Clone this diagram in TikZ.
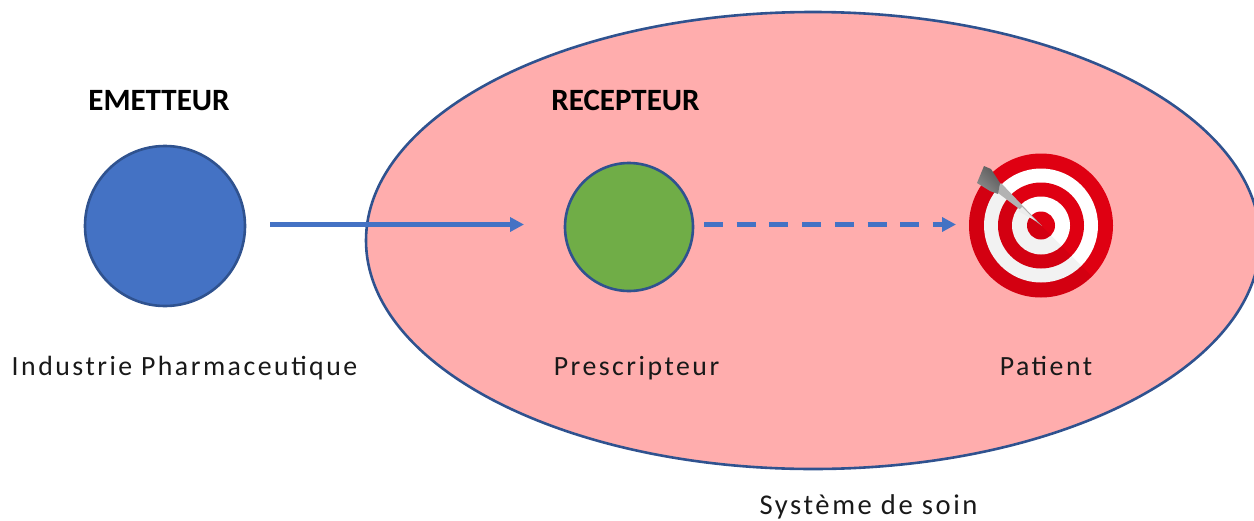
\documentclass[tikz,border=0pt]{standalone}
\usepackage{fontspec}
\setmainfont{Carlito}
\newfontfamily\spaced[LetterSpace=9]{Carlito}
\usetikzlibrary{arrows.meta,shapes.geometric}
\definecolor{bluefill}{HTML}{4472C4}
\definecolor{bluedark}{HTML}{2F528F}
\definecolor{greenfill}{HTML}{70AD47}
\definecolor{pinkfill}{HTML}{FFADAD}
\definecolor{targetred}{HTML}{DF0012}
\tikzset{
  x=1pt,y=-1pt,
  disc/.style={circle,draw=bluedark,line width=2.6pt,inner sep=0pt,minimum size=#1},
  label text/.style={font=\spaced\fontsize{27.8}{30}\selectfont,text=black!90,inner sep=0pt,anchor=base},
  head text/.style={font=\bfseries\fontsize{31}{33}\selectfont,text=black,inner sep=0pt,anchor=base},
  link/.style={draw=bluefill,line width=5pt,-{Triangle[length=14pt,width=14pt]}},
  ring/.style={circle,inner sep=0pt,minimum size=#1},
}
\begin{document}
\begin{tikzpicture}
\useasboundingbox (0,0) rectangle (1254,520);
\begin{scope}
\clip (0,0) rectangle (1254,520);
\node[ellipse,draw=bluedark,line width=2.6pt,fill=pinkfill,inner sep=0pt,minimum width=894pt,minimum height=457pt] (systeme) at (813,240.5) {};
\end{scope}
\node[disc=160pt,fill=bluefill] (emetteur) at (165,226) {};
\node[disc=128pt,fill=greenfill] (prescripteur) at (629,227) {};
% target
\node[ring=144pt,fill=targetred] (target) at (1041,225.5) {};
\node[ring=114pt,fill=white] (t1) at (target) {};
\node[ring=86pt,fill=targetred] (t2) at (target) {};
\node[ring=58pt,fill=white] (t3) at (target) {};
\node[ring=28pt,fill=targetred] (t4) at (target) {};
\begin{scope}
\clip (target.center) circle (72);
\fill[black,opacity=.05] (1041,225.5) -- (1121,305.5) -- (961,305.5) -- (961,145.5) -- cycle;
\end{scope}
% dart
\fill[gray!60] (1042,226) -- (1001,183) -- (994,190) -- cycle;
\fill[white!85!gray] (1036,221) -- (1022,207) -- (1018,211) -- cycle;
\shade[left color=black!65,right color=black!45,shading angle=-45] (984,166) -- (991,169) -- (1000,183) -- (998,194) -- (990,191) -- (977,183) -- cycle;
\coordinate (a1) at (270,224.5);
\coordinate (a2) at (524,224.5);
\coordinate (b1) at (704,224.5);
\coordinate (b2) at (956,224.5);
\draw[link] (a1) -- (a2);
\draw[link,dash pattern=on 19pt off 13.7pt] (b1) -- (b2);
\node[head text] (h1) at (159,110) {EMETTEUR};
\node[head text] (h2) at (625.5,110) {RECEPTEUR};
\node[label text] (l1) at (184.5,375) {Industrie Pharmaceutique};
\node[label text] (l2) at (636.5,375) {Prescripteur};
\node[label text] (l3) at (1046,375) {Patient};
\node[label text,font=\spaced\fontsize{28.6}{30}\selectfont] (l4) at (868.5,514.7) {Système de soin};
\end{tikzpicture}
\end{document}
